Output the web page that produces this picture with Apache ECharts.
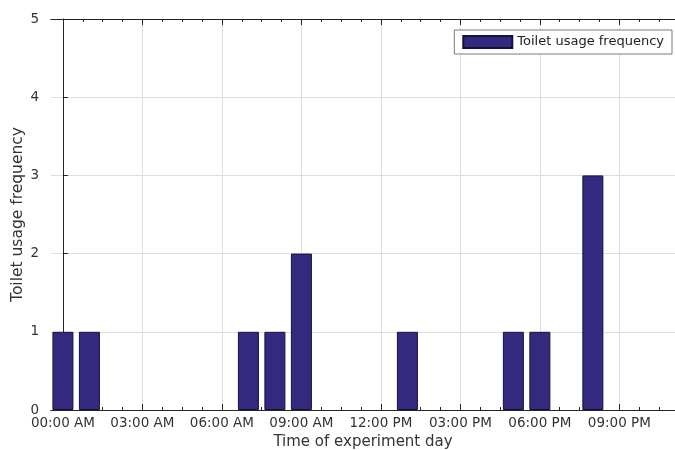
<!DOCTYPE html>
<html>
<head>
<meta charset="utf-8">
<script src="https://cdn.jsdelivr.net/npm/echarts@6/dist/echarts.min.js"></script>
<style>
  html, body { margin: 0; padding: 0; background: #fff; }
  #chart { width: 675px; height: 450px; }
</style>
</head>
<body>
<div id="chart"></div>
<script>
// hour of day (bin centre) and number of toilet visits in that hour
const hours = [0, 1, 2, 3, 4, 5, 6, 7, 8, 9, 10, 11, 12, 13, 14, 15, 16, 17, 18, 19, 20, 21, 22, 23];
const counts = [1, 1, 0, 0, 0, 0, 0, 1, 1, 2, 0, 0, 0, 1, 0, 0, 0, 1, 1, 0, 3, 0, 0, 0];

const majorTicks = [0, 3, 6, 9, 12, 15, 18, 21];
const tickLabels = ['00:00 AM', '03:00 AM', '06:00 AM', '09:00 AM', '12:00 PM', '03:00 PM', '06:00 PM', '09:00 PM'];
const minorTicks = [];
for (let t = 0; t <= 23; t += 0.75) minorTicks.push(t);

const font = 'DejaVu Sans';
const xMin = -0.45;
const xMax = 23.1;

const chart = echarts.init(document.getElementById('chart'));

function xAxisBase(position, showLabels, ticks, tickLen) {
  return {
    type: 'value',
    position: position,
    min: xMin,
    max: xMax,
    axisLine: { show: true, onZero: false, lineStyle: { color: '#262626', width: 1 } },
    axisTick: {
      show: true,
      inside: true,
      length: tickLen,
      customValues: ticks,
      lineStyle: { color: '#262626' },
    },
    axisLabel: showLabels
      ? {
          show: true,
          customValues: majorTicks,
          margin: 6,
          color: '#333',
          fontFamily: font,
          fontSize: 13.5,
          formatter: (v) => tickLabels[majorTicks.indexOf(Math.round(v))] || '',
        }
      : { show: false },
    splitLine: { show: false },
  };
}

const mainX = xAxisBase('bottom', true, majorTicks, 6);
mainX.splitLine = { show: true, lineStyle: { color: '#dedede', width: 1 } };
mainX.name = 'Time of experiment day';
mainX.nameLocation = 'middle';
mainX.nameGap = 25;
mainX.nameTextStyle = { color: '#333', fontFamily: font, fontSize: 15 };

chart.setOption({
  animation: false,
  backgroundColor: '#fff',
  grid: {
    left: 51,
    right: 0,
    top: 19,
    bottom: 40,
    containLabel: false,
    outerBoundsMode: 'none',
  },
  legend: {
    top: 30,
    right: 3,
    icon: 'rect',
    itemWidth: 49,
    itemHeight: 12,
    itemGap: 4,
    padding: [5, 8, 5, 8],
    borderColor: '#7a7a7a',
    borderWidth: 1,
    backgroundColor: '#fff',
    textStyle: { color: '#222', fontFamily: font, fontSize: 13 },
    data: ['Toilet usage frequency'],
  },
  xAxis: [
    mainX,
    xAxisBase('bottom', false, minorTicks, 3),
    xAxisBase('top', false, majorTicks, 6),
    xAxisBase('top', false, minorTicks, 3),
  ],
  yAxis: {
    type: 'value',
    min: 0,
    max: 5,
    interval: 1,
    name: 'Toilet usage frequency',
    nameLocation: 'middle',
    nameGap: 25,
    nameMoveOverlap: false,
    nameTextStyle: { color: '#333', fontFamily: font, fontSize: 15.5 },
    axisLine: { show: true, lineStyle: { color: '#262626', width: 1 } },
    axisTick: { show: true, inside: true, length: 5, lineStyle: { color: '#262626' } },
    axisLabel: { color: '#333', fontFamily: font, fontSize: 13.5, margin: 12 },
    splitLine: { show: true, lineStyle: { color: '#dedede', width: 1 } },
  },
  series: [
    {
      name: 'Toilet usage frequency',
      type: 'bar',
      xAxisIndex: 0,
      barWidth: 21,
      data: hours.map((h, i) => [h, counts[i]]).filter((d) => d[1] > 0),
      itemStyle: {
        color: '#332a80',
        borderColor: '#15123a',
        borderWidth: 1,
      },
    },
  ],
});
</script>
</body>
</html>
